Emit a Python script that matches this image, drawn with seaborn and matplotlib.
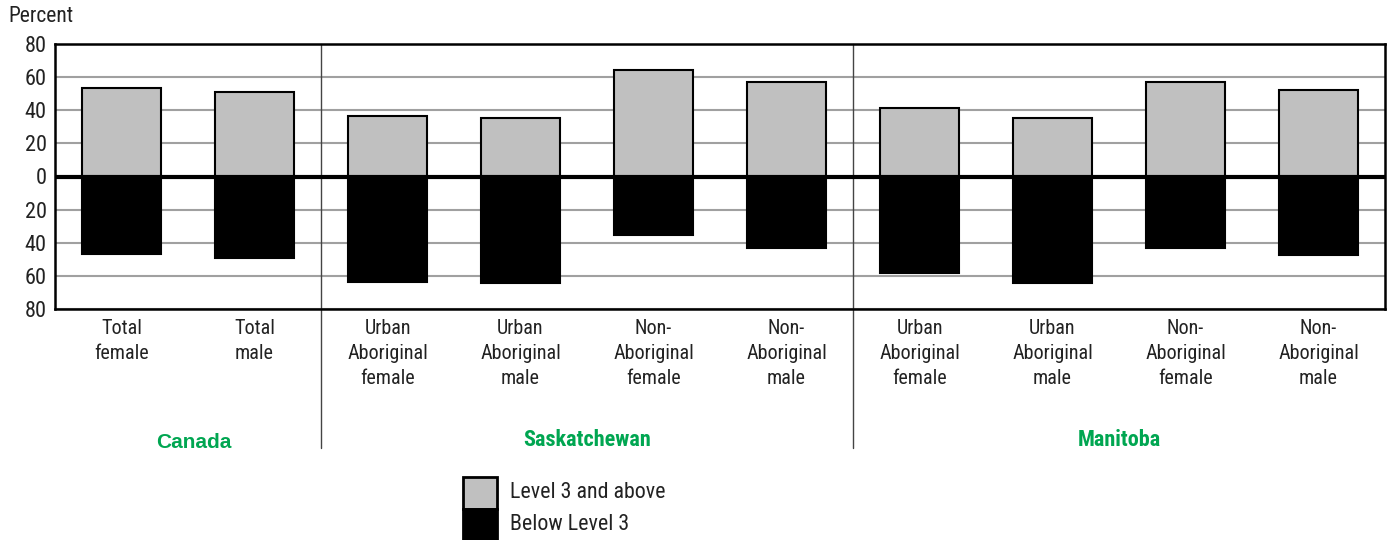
import matplotlib
matplotlib.use("Agg")
import matplotlib.pyplot as plt
import seaborn as sns
import pandas as pd
from matplotlib.patches import Rectangle
from matplotlib.lines import Line2D

# values (percent)
bar_labels = ["Total\nfemale", "Total\nmale",
              "Urban\nAboriginal\nfemale", "Urban\nAboriginal\nmale",
              "Non-\nAboriginal\nfemale", "Non-\nAboriginal\nmale",
              "Urban\nAboriginal\nfemale", "Urban\nAboriginal\nmale",
              "Non-\nAboriginal\nfemale", "Non-\nAboriginal\nmale"]
level3_above = [53.5, 51, 36.5, 35.5, 64.5, 57, 41.5, 35.5, 57, 52.5]
below_level3 = [46.5, 49, 63.5, 64.5, 35.5, 43, 58.5, 64.5, 43, 47.5]
regions = ["Canada", "Saskatchewan", "Manitoba"]
region_sizes = [2, 4, 4]
legend_labels = ["Level 3 and above", "Below Level 3"]
yticks = [-80, -60, -40, -20, 0, 20, 40, 60, 80]

sns.set_style("white")
plt.rcParams['font.family'] = ['Roboto Condensed', 'Liberation Sans', 'DejaVu Sans']

ids = [f"b{i}" for i in range(len(bar_labels))]
df = pd.DataFrame({"id": ids, "above": level3_above,
                   "below": [-v for v in below_level3]})

fig = plt.figure(figsize=(13.9, 5.4), dpi=100)
ax = fig.add_axes([55/1390, 1-309/540, 1330/1390, 265/540])

for yv in yticks:
    if yv != 0:
        ax.axhline(yv, color="#a0a0a0", lw=1.5, zorder=0)

sns.barplot(data=df, x="id", y="above", order=ids, color="#c0c0c0",
            edgecolor="black", linewidth=1.5, width=0.6, saturation=1, ax=ax, zorder=2)
sns.barplot(data=df, x="id", y="below", order=ids, color="black",
            edgecolor="black", linewidth=1.5, width=0.6, saturation=1, ax=ax, zorder=2)

ax.axhline(0, color="black", lw=3, zorder=3)
ax.set_xlim(-0.5, len(ids) - 0.5)
ax.set_ylim(-80, 80)
ax.set_yticks(yticks)
ax.set_yticklabels([str(abs(v)) for v in yticks], fontsize=16, color="#222222")
ax.set_xticks(range(len(ids)))
ax.set_xticklabels(bar_labels, fontsize=14.5, color="#222222", linespacing=1.4)
ax.tick_params(length=0, pad=6)
ax.tick_params(axis="x", pad=7)
ax.set_xlabel("")
ax.set_ylabel("")
for sp in ax.spines.values():
    sp.set_color("black")
    sp.set_linewidth(1.8)

# group separators and region names
trans = ax.get_xaxis_transform()
start = 0
for i, (name, n) in enumerate(zip(regions, region_sizes)):
    mid = start + n / 2 - 0.5
    if i == 0:
        ax.text(mid + 0.04, -0.505, name, transform=trans, ha="center", va="center",
                fontsize=15, fontweight="bold", color="#00a651",
                family=['Liberation Sans', 'DejaVu Sans'])
    else:
        ax.text(mid, -0.494, name, transform=trans, ha="center", va="center",
                fontsize=16, fontweight="bold", color="#00a651")
    if start > 0:
        ax.add_line(Line2D([start - 0.5, start - 0.5], [-0.525, 1], transform=trans,
                           color="#444444", lw=1, clip_on=False, zorder=1))
    start += n

fig.text(8/1390, 1-17/540, "Percent", fontsize=15.5, color="#222222", va="center")

# legend: two stacked boxes with labels
leg_colors = ["#c0c0c0", "black"]
for k, (lab, col) in enumerate(zip(legend_labels, leg_colors)):
    top = 477 + k * 31.5
    fig.add_artist(Rectangle((463/1390, 1-(top+31.5)/540), 34/1390, 31.5/540,
                             transform=fig.transFigure, facecolor=col,
                             edgecolor="black", linewidth=2))
    fig.text(510/1390, 1-(top+16)/540, lab, fontsize=15.8, color="#222222", va="center")

fig.savefig("out.png", dpi=100)
